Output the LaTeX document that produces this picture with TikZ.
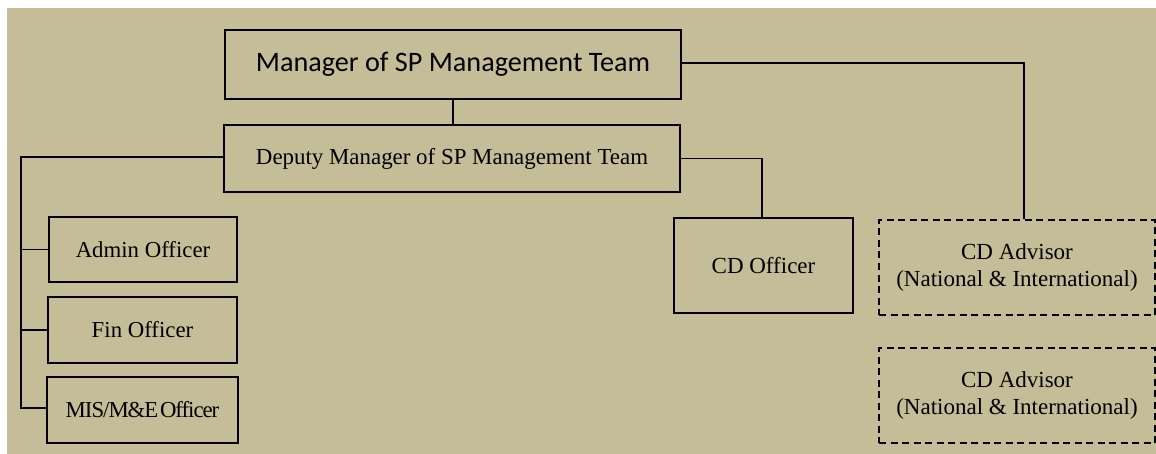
\documentclass[tikz,border=0pt]{standalone}
\usepackage{fontspec}
\setmainfont{Liberation Serif}
\newfontfamily\calibri{Carlito}
\usetikzlibrary{positioning}
\definecolor{tanbg}{RGB}{196,189,152}
\tikzset{
  post/.style={draw, line width=2pt, align=center, inner sep=0pt},
  advisor/.style={post, dash pattern=on 7pt off 4.5pt},
  link/.style={line width=1.8pt}
}
\begin{document}
\begin{tikzpicture}[x=1pt, y=-1pt]
        \useasboundingbox (0,0) rectangle (1156,454);
        \fill[tanbg] (7,8) rectangle (1156,454);
        % boxes
        \node[post, minimum width=456pt, minimum height=69pt,
              font=\calibri\fontsize{28.2}{30}\selectfont] (mgr) at (453,64.5)
              {Manager of SP Management Team};
        \node[post, minimum width=456pt, minimum height=67pt,
              font=\fontsize{22.9}{26}\selectfont] (dep) at (452,158.5)
              {Deputy Manager of SP Management Team};
        \node[post, minimum width=188pt, minimum height=65pt,
              font=\fontsize{22.8}{26}\selectfont] (admin) at (143,249.5) {Admin Officer};
        \node[post, minimum width=189pt, minimum height=66pt,
              font=\fontsize{22.8}{26}\selectfont] (fin) at (142.5,330) {Fin Officer};
        \node[post, minimum width=191pt, minimum height=66pt,
              font=\fontsize{22.8}{26}\selectfont\addfontfeature{LetterSpace=-4.5}] (mis) at (142.5,410)
              {MIS/M\&E\kern-3pt\ Officer};
        \node[post, minimum width=179pt, minimum height=95pt,
              font=\fontsize{23}{27}\selectfont] (cdo) at (763.5,265.5) {CD Officer};
        \node[advisor, minimum width=276pt, minimum height=95pt,
              font=\fontsize{23}{27}\selectfont] (adv1) at (1017,267.5)
              {CD Advisor\\(National \& International)};
        \node[advisor, minimum width=276pt, minimum height=95pt,
              font=\fontsize{23}{27}\selectfont] (adv2) at (1017,395.5)
              {CD Advisor\\(National \& International)};
        % lines
        \coordinate (spine) at (21,408);
        \draw[link] (mgr.south) -- (mgr.south |- dep.north);
        \draw[link] ([yshift=1.5pt]mgr.east) -| ([xshift=7pt]adv1.north);
        \draw[link] (dep.east) -| ([xshift=-1.5pt]cdo.north);
        \draw[link] ([yshift=1.5pt]dep.west) -| (spine) -- (spine -| mis.west);
        \draw[link] (admin.west) -- (admin.west -| spine);
        \draw[link] (fin.west) -- (fin.west -| spine);
\end{tikzpicture}
\end{document}
